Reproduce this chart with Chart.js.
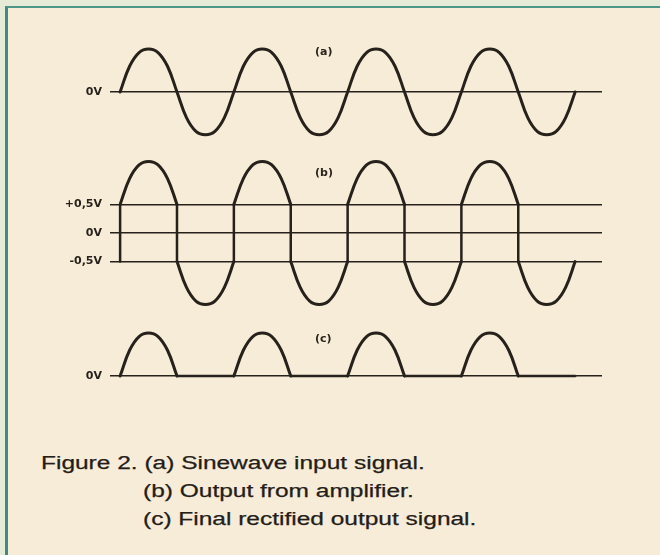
<!DOCTYPE html>
<html>
<head>
<meta charset="utf-8">
<script src="https://cdn.jsdelivr.net/npm/chart.js@4/dist/chart.umd.min.js"></script>
<style>
  html, body { margin: 0; padding: 0; }
  body {
    width: 660px; height: 555px; position: relative; overflow: hidden;
    background: #e6ebd8;
    font-family: "Liberation Sans", Arial, sans-serif;
  }
  #sheet {
    position: absolute; left: 5px; top: 6px; right: 0; bottom: 0;
    background: #f6ecd8;
    border-top: 2px solid #4f968a;
    border-left: 3px solid #3e8a84;
  }
  canvas { position: absolute; left: 0; }
  .tag { position: absolute; font: bold 11px "DejaVu Sans", sans-serif; line-height: 14px; color: #2b231d; }
  .cap {
    position: absolute; font-size: 18px; line-height: 18px; color: #241d18;
    white-space: nowrap; transform: scaleX(1.36); transform-origin: 0 0;
    -webkit-text-stroke: 0.25px #241d18;
  }
</style>
</head>
<body>
<div id="sheet"></div>

<canvas id="panelA" width="660" height="122" style="top:26px"></canvas>
<canvas id="panelB" width="660" height="170" style="top:150px"></canvas>
<canvas id="panelC" width="660" height="82" style="top:322px"></canvas>

<div class="tag" style="left:315px; top:45px">(a)</div>
<div class="tag" style="left:315px; top:166px">(b)</div>
<div class="tag" style="left:315px; top:332px">(c)</div>

<div class="cap" style="left:41px; top:454px">Figure 2. (a) Sinewave input signal.</div>
<div class="cap" style="left:143px; top:482px">(b) Output from amplifier.</div>
<div class="cap" style="left:143px; top:510px">(c) Final rectified output signal.</div>

<script>
/* ===== DATA (volts against phase in degrees) ===== */

// (a) input sinewave, read every 30 degrees over four cycles
const phaseDeg = [0, 30, 60, 90, 120, 150, 180, 210, 240, 270, 300, 330,
                  360, 390, 420, 450, 480, 510, 540, 570, 600, 630, 660, 690,
                  720, 750, 780, 810, 840, 870, 900, 930, 960, 990, 1020, 1050,
                  1080, 1110, 1140, 1170, 1200, 1230, 1260, 1290, 1320, 1350, 1380, 1410,
                  1440];
const inputV = [0, 0.45, 0.69, 0.75, 0.69, 0.45, 0, -0.45, -0.69, -0.75, -0.69, -0.45,
                0, 0.45, 0.69, 0.75, 0.69, 0.45, 0, -0.45, -0.69, -0.75, -0.69, -0.45,
                0, 0.45, 0.69, 0.75, 0.69, 0.45, 0, -0.45, -0.69, -0.75, -0.69, -0.45,
                0, 0.45, 0.69, 0.75, 0.69, 0.45, 0, -0.45, -0.69, -0.75, -0.69, -0.45,
                0];

// (b) amplifier output: half-cycle lobes, null = break between lobes
const ampPhase = [0, 30, 60, 90, 120, 150, 180, 180,
                  180, 210, 240, 270, 300, 330, 360, 360,
                  360, 390, 420, 450, 480, 510, 540, 540,
                  540, 570, 600, 630, 660, 690, 720, 720,
                  720, 750, 780, 810, 840, 870, 900, 900,
                  900, 930, 960, 990, 1020, 1050, 1080, 1080,
                  1080, 1110, 1140, 1170, 1200, 1230, 1260, 1260,
                  1260, 1290, 1320, 1350, 1380, 1410, 1440];
const ampV = [0.5, 0.95, 1.19, 1.25, 1.19, 0.95, 0.5, null,
              -0.5, -0.95, -1.19, -1.25, -1.19, -0.95, -0.5, null,
              0.5, 0.95, 1.19, 1.25, 1.19, 0.95, 0.5, null,
              -0.5, -0.95, -1.19, -1.25, -1.19, -0.95, -0.5, null,
              0.5, 0.95, 1.19, 1.25, 1.19, 0.95, 0.5, null,
              -0.5, -0.95, -1.19, -1.25, -1.19, -0.95, -0.5, null,
              0.5, 0.95, 1.19, 1.25, 1.19, 0.95, 0.5, null,
              -0.5, -0.95, -1.19, -1.25, -1.19, -0.95, -0.5];
// output steps straight across the dead band at each crossing
const jumpPhase = [0, 180, 360, 540, 720, 900, 1080, 1260];
const bandLowV = -0.5;
const bandHighV = 0.5;

// (c) rectified output: positive lobes, flat between them
const rectPhase = [0, 30, 60, 90, 120, 150, 180, 180,
                   360, 390, 420, 450, 480, 510, 540, 540,
                   720, 750, 780, 810, 840, 870, 900, 900,
                   1080, 1110, 1140, 1170, 1200, 1230, 1260];
const rectV = [0, 0.45, 0.69, 0.75, 0.69, 0.45, 0, null,
               0, 0.45, 0.69, 0.75, 0.69, 0.45, 0, null,
               0, 0.45, 0.69, 0.75, 0.69, 0.45, 0, null,
               0, 0.45, 0.69, 0.75, 0.69, 0.45, 0];
const flatPhase = [180, 360, 540, 720, 900, 1080, 1260, 1440];

// reference levels and their labels
const levelsA = [0];
const labelsA = ['0V'];
const levelsB = [-0.5, 0, 0.5];
const labelsB = ['-0,5V', '0V', '+0,5V'];
const levelsC = [0];
const labelsC = ['0V'];

/* ===== DRAWING ===== */

const INK = '#27211c';

function xy(xs, ys) {
    return xs.map((x, i) => ({ x: x, y: ys[i] }));
}

function trace(data, width, tension) {
    return {
        data: data,
        borderColor: INK,
        borderWidth: width,
        tension: tension,
        pointRadius: 0,
        fill: false,
        spanGaps: false,
        borderCapStyle: 'round',
        borderJoinStyle: 'round'
    };
}

function makePanel(id, yMin, yMax, levels, labels, datasets) {
    new Chart(document.getElementById(id), {
        type: 'line',
        data: { datasets: datasets },
        options: {
            responsive: false,
            animation: false,
            events: [],
            // keep the plot area glued to the canvas so 1 V is the same height in every panel
            layout: { autoPadding: false, padding: { left: 0, right: 58, top: 0, bottom: 0 } },
            plugins: { legend: { display: false }, tooltip: { enabled: false } },
            scales: {
                x: { type: 'linear', display: false, min: -32, max: 1525 },
                y: {
                    type: 'linear',
                    min: yMin,
                    max: yMax,
                    afterFit: function(scale) {
                        scale.width = 110;
                        scale.paddingTop = 0;
                        scale.paddingBottom = 0;
                    },
                    afterBuildTicks: function(scale) {
                        scale.ticks = levels.map(v => ({ value: v }));
                    },
                    ticks: {
                        padding: 8,
                        color: INK,
                        font: { family: 'DejaVu Sans', weight: 'bold', size: 11 },
                        callback: function(value, index) { return labels[index]; }
                    },
                    grid: { color: INK, lineWidth: 1.6, drawTicks: false },
                    border: { display: false }
                }
            }
        }
    });
}

// vertical steps of the amplifier output
const jumpData = [];
jumpPhase.forEach(p => {
    jumpData.push({ x: p, y: bandLowV }, { x: p, y: bandHighV }, { x: p, y: null });
});

// flat stretches of the rectified output
const flatData = [];
for (let i = 0; i < flatPhase.length; i += 2) {
    flatData.push({ x: flatPhase[i], y: 0 }, { x: flatPhase[i + 1], y: 0 }, { x: flatPhase[i + 1], y: null });
}

makePanel('panelA', -0.98, 1.154, levelsA, labelsA, [
    trace(xy(phaseDeg, inputV), 3, 0.4)
]);

makePanel('panelB', -1.521, 1.451, levelsB, labelsB, [
    trace(xy(ampPhase, ampV), 3, 0.4),
    trace(jumpData, 2.5, 0)
]);

makePanel('panelC', -0.4895, 0.944, levelsC, labelsC, [
    trace(xy(rectPhase, rectV), 3, 0.4),
    trace(flatData, 2.6, 0)
]);
</script>
</body>
</html>
